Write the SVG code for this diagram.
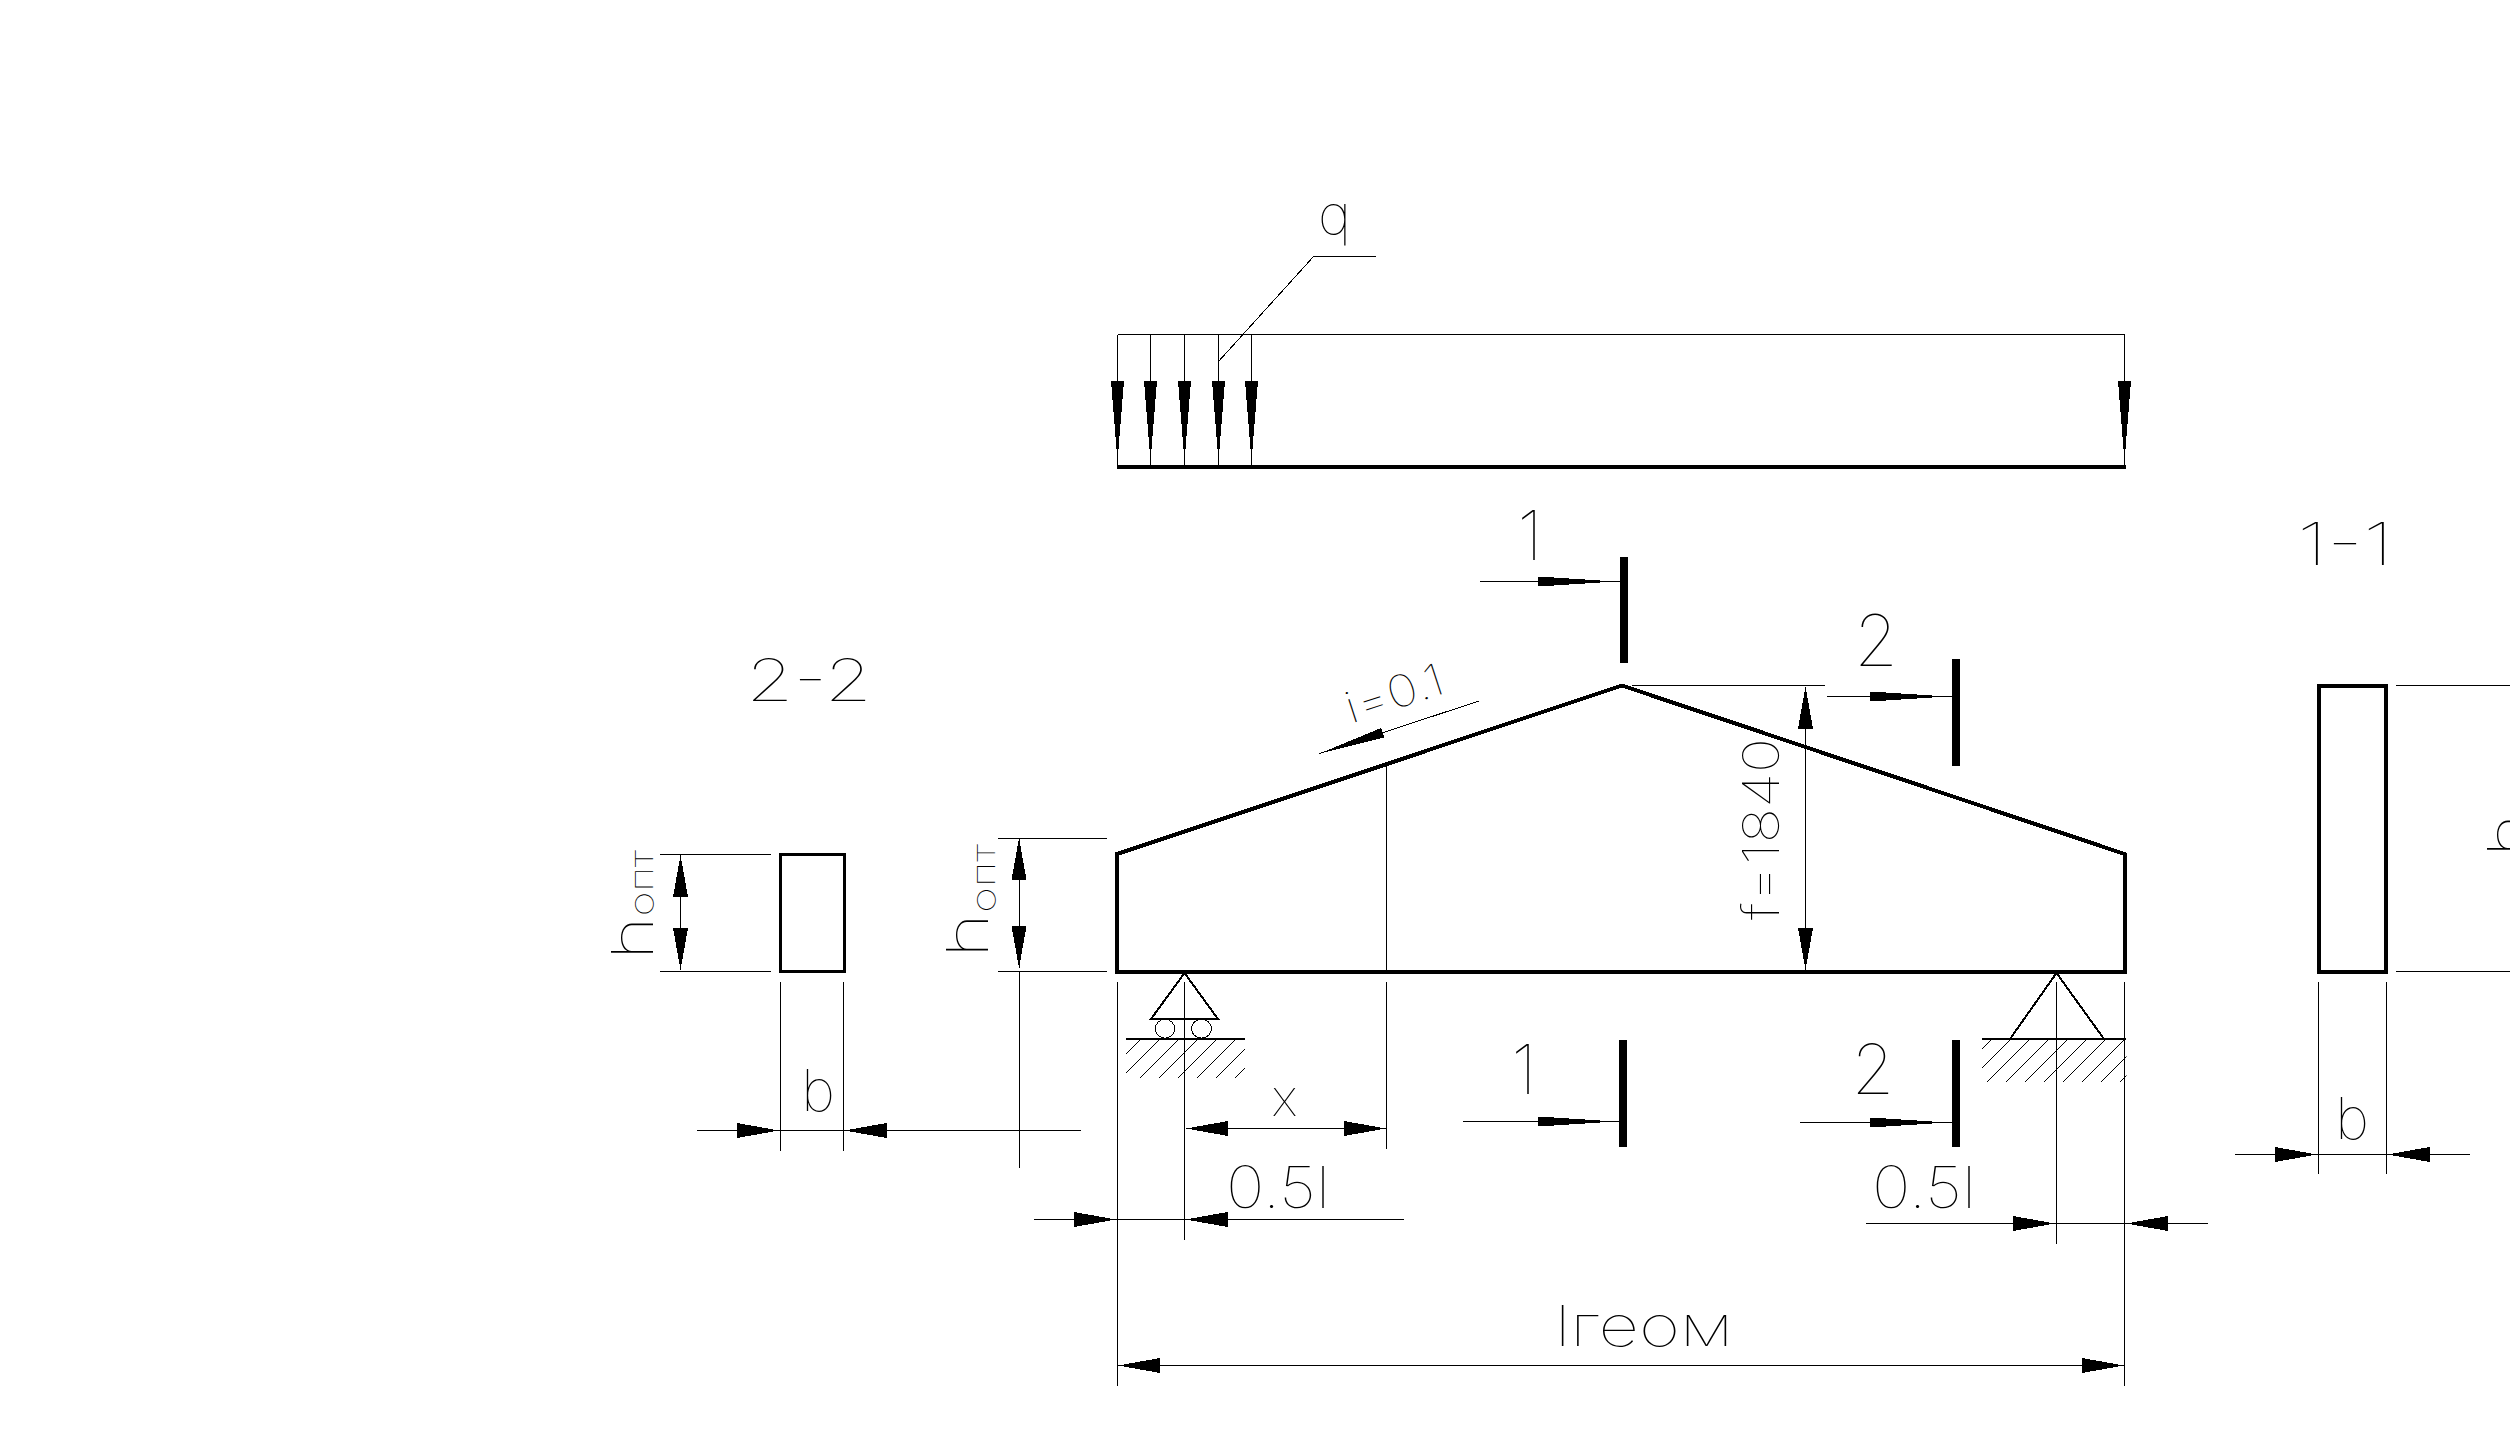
<svg xmlns="http://www.w3.org/2000/svg" width="2510" height="1431" viewBox="0 0 2510 1431">
<style>
.t{font-family:"Inter","Noto Sans",sans-serif;font-weight:100;fill:#000}
.m{text-anchor:middle}
.l{fill:none;stroke:#000;stroke-width:1;shape-rendering:crispEdges}
.b{fill:none;stroke:#000;stroke-width:4;shape-rendering:crispEdges;stroke-linejoin:miter}
.s{fill:none;stroke:#000;stroke-width:2;shape-rendering:crispEdges}
.r{fill:none;stroke:#000;stroke-width:3;shape-rendering:crispEdges}
.bar{fill:#000;shape-rendering:crispEdges}
.d{marker-end:url(#dim)}
.dd{marker-start:url(#dim);marker-end:url(#dim)}
.sa{marker-end:url(#sec)}
.la{marker-end:url(#load)}
.ia{marker-end:url(#inc)}
</style>
<defs>
<marker id="dim" markerUnits="userSpaceOnUse" viewBox="0 0 42 15" refX="42" refY="7.5" markerWidth="42" markerHeight="15" orient="auto-start-reverse"><path d="M0 0L42 7.5L0 15Z" fill="#000" shape-rendering="crispEdges"/></marker>
<marker id="sec" markerUnits="userSpaceOnUse" viewBox="0 0 82 10" refX="82" refY="5" markerWidth="82" markerHeight="10" orient="auto"><path d="M0 0L78 5L0 10Z" fill="#000" shape-rendering="crispEdges"/></marker>
<marker id="load" markerUnits="userSpaceOnUse" viewBox="0 0 85 13" refX="85" refY="6.5" markerWidth="85" markerHeight="13" orient="auto"><path d="M0 0L80 6.5L0 13Z" fill="#000" shape-rendering="crispEdges"/></marker>
<marker id="inc" markerUnits="userSpaceOnUse" viewBox="0 0 67 10" refX="67" refY="5" markerWidth="67" markerHeight="10" orient="auto"><path d="M0 0L67 5L0 10Z" fill="#000" shape-rendering="crispEdges"/></marker>
<clipPath id="h1"><rect x="1126" y="1040" width="119" height="38"/></clipPath>
<clipPath id="h2"><rect x="1982" y="1040" width="144.500" height="42"/></clipPath>
</defs>
<rect width="2510" height="1431" fill="#fff"/>

<g id="connectors">
<path class="l" d="M660 854H771M660 971.500H771M998 838H1107M998 971.500H1107M1632 685.500H1825M2396 685.500H2510M2396 971.500H2510"/>
<path class="l" d="M780.500 982V1151M843.500 982V1151M1019 971V1167.500M1117.500 982V1386M1184.500 982V1240M1386.500 765V971M1386.500 982V1148.500M2056.500 982V1244M2124.500 982V1386M2318.500 982V1174M2386.500 982V1174"/>
<path class="l dd" d="M680.500 855V970"/>
<path class="l dd" d="M1019 838V968"/>
<path class="l dd" d="M1805.500 686.500V970"/>
<path class="l dd" d="M1186 1128.500H1386"/>
<path class="l dd" d="M1118 1365.500H2124"/>
<path class="l d" d="M697 1130.500H779"/><path class="l" d="M779 1130.500H845"/><path class="l d" d="M1081 1130.500H844.500"/>
<path class="l d" d="M1034 1219.500H1116"/><path class="l" d="M1116 1219.500H1186"/><path class="l d" d="M1404 1219.500H1185.500"/>
<path class="l d" d="M1866 1223.500H2055"/><path class="l" d="M2055 1223.500H2126"/><path class="l d" d="M2207.500 1223.500H2126"/>
<path class="l d" d="M2235 1154.500H2317"/><path class="l" d="M2317 1154.500H2388"/><path class="l d" d="M2470 1154.500H2387.500"/>
<path class="l ia" d="M1479 701L1319 753.700"/>
</g>

<g id="load-diagram">
<path class="l" d="M1117.500 334.500H2124.500"/>
<path class="l la" d="M1117.500 334.500V466"/>
<path class="l la" d="M1150.500 334.500V466"/>
<path class="l la" d="M1184.500 334.500V466"/>
<path class="l la" d="M1218.500 334.500V466"/>
<path class="l la" d="M1251.500 334.500V466"/>
<path class="l la" d="M2124.500 334.500V466"/>
<path class="b" d="M1117 467H2126"/>
<path class="l" d="M1376 256H1314L1218 362"/>
<text class="t" x="1318" y="234" font-size="55" textLength="33" lengthAdjust="spacingAndGlyphs">q</text>
</g>

<g id="beam"><path class="b" d="M1117 971.500V854L1622 685.500L2124.500 854V971.500Z"/></g>

<g id="support-left">
<path class="s" d="M1151 1019H1218L1184.500 973Z"/>
<ellipse class="l" cx="1165" cy="1028.700" rx="9.700" ry="9.400"/>
<ellipse class="l" cx="1201.500" cy="1028.700" rx="10" ry="9.400"/>
<path class="s" d="M1126 1039H1245"/>
<path class="l" clip-path="url(#h1)" d="M1102 1078l38-38M1121 1078l38-38M1140 1078l38-38M1159 1078l38-38M1178 1078l38-38M1197 1078l38-38M1216 1078l38-38M1235 1078l38-38"/>
</g>
<g id="support-right">
<path class="s" d="M2010 1039L2056.500 973L2104 1039"/>
<path class="s" d="M1982 1039H2126"/>
<path class="l" clip-path="url(#h2)" d="M1949 1082l42-42M1968 1082l42-42M1987 1082l42-42M2006 1082l42-42M2025 1082l42-42M2044 1082l42-42M2063 1082l42-42M2082 1082l42-42M2101 1082l42-42M2120 1082l42-42"/>
</g>

<g id="section-1-top">
<rect class="bar" x="1620" y="557" width="8" height="106"/>
<path class="l sa" d="M1480 581.500H1620"/>
<text class="t m" x="1530" y="560" font-size="69">1</text>
</g>
<g id="section-2-top">
<rect class="bar" x="1952" y="659" width="8" height="107"/>
<path class="l sa" d="M1827 696.500H1952"/>
<text class="t m" x="1876" y="665.700" font-size="71">2</text>
</g>
<g id="section-1-bottom">
<rect class="bar" x="1619" y="1040" width="8" height="107"/>
<path class="l sa" d="M1463 1121.500H1620"/>
<text class="t m" x="1524" y="1094" font-size="69">1</text>
</g>
<g id="section-2-bottom">
<rect class="bar" x="1952" y="1040" width="8" height="107"/>
<path class="l sa" d="M1800 1122.500H1952"/>
<text class="t m" x="1873" y="1094" font-size="69">2</text>
</g>

<g id="cut-2-2">
<rect class="r" x="780.500" y="854" width="63.500" height="117.500"/>
<text class="t" x="746" y="701" font-size="58" textLength="126" lengthAdjust="spacingAndGlyphs">2-2</text>
</g>
<g id="cut-1-1">
<rect class="b" x="2318.500" y="686" width="67.500" height="285.500"/>
<text class="t" x="2297" y="565" font-size="59" textLength="96" lengthAdjust="spacingAndGlyphs">1-1</text>
</g>

<g id="labels">
<text class="t" transform="translate(653 960) rotate(-90)" font-size="58" textLength="110" lengthAdjust="spacingAndGlyphs">h<tspan font-size="33">опт</tspan></text>
<text class="t" transform="translate(988 958) rotate(-90)" font-size="58" textLength="114" lengthAdjust="spacingAndGlyphs">h<tspan font-size="33" dy="7">опт</tspan></text>
<text class="t" transform="translate(2529 857) rotate(-90)" font-size="58" textLength="110" lengthAdjust="spacingAndGlyphs">h<tspan font-size="33">опт</tspan></text>
<text class="t" transform="translate(1779 920) rotate(-90)" font-size="50" textLength="182" lengthAdjust="spacingAndGlyphs">f=1840</text>
<text class="t" transform="translate(1351 723.700) rotate(-18)" font-size="44" textLength="101" lengthAdjust="spacingAndGlyphs">i=0.1</text>
<text class="t m" x="818" y="1111" font-size="58">b</text>
<text class="t m" x="2352" y="1139" font-size="58">b</text>
<text class="t m" x="1284.500" y="1115.700" font-size="51">x</text>
<text class="t" x="1226" y="1208" font-size="58" textLength="104" lengthAdjust="spacingAndGlyphs">0.5l</text>
<text class="t" x="1872" y="1208" font-size="58" textLength="104" lengthAdjust="spacingAndGlyphs">0.5l</text>
<text class="t" x="1555" y="1346" font-size="56" textLength="178" lengthAdjust="spacingAndGlyphs">lгеом</text>
</g>
</svg>
